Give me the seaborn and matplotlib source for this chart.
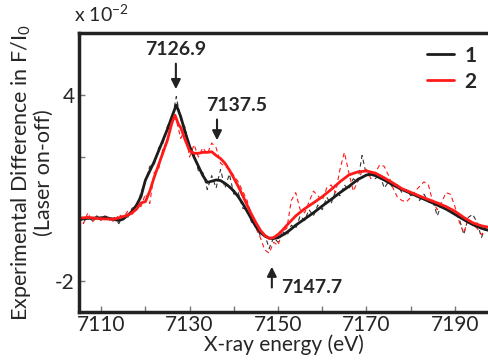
import pandas as pd
import matplotlib
matplotlib.use("Agg")
import matplotlib.pyplot as plt
import seaborn as sns

# raw (laser on - off) difference, x 10^-2, 1 eV steps
energy_raw = list(range(7105, 7198))
raw_1 = [0.05, -0.1, 0.08, -0.05, 0.1, 0.02, 0.12, -0.05, 0.05, -0.15,
         0.1, 0.05, 0.35, 0.4, 0.85, 1.2, 1.7, 1.75, 2.3, 2.45,
         3.0, 3.2, 3.95, 3.2, 2.95, 2.2, 2.1, 1.55, 1.5, 0.95,
         1.4, 1.0, 1.6, 1.0, 1.45, 0.8, 0.85, 0.35, 0.3, -0.1,
         -0.2, -0.55, -0.5, -0.95, -0.6, -0.75, -0.4, -0.55, -0.2, -0.3,
         0.1, -0.05, 0.3, 0.1, 0.45, 0.3, 0.7, 0.5, 0.9, 0.75,
         1.1, 0.95, 1.3, 1.2, 2.05, 1.4, 1.55, 1.3, 1.45, 1.0,
         1.2, 1.0, 1.1, 0.85, 0.95, 0.75, 0.85, 0.6, 0.8, 0.55,
         0.6, 0.1, 0.5, 0.3, 0.25, 0.2, 0.0, -0.5, 0.05, 0.15,
         -0.1, -0.6, -0.2]
raw_2 = [0.1, -0.15, 0.2, -0.1, 0.05, -0.05, 0.1, 0.0, -0.1, 0.15,
         0.05, 0.25, 0.15, 0.45, 0.4, 0.8, 0.5, 1.5, 1.6, 2.3,
         2.5, 3.3, 3.2, 2.6, 2.9, 2.0, 2.4, 2.0, 2.3, 2.1,
         2.45, 2.3, 1.8, 1.7, 1.6, 1.4, 1.2, 0.9, 0.6, 0.1,
         -0.3, -0.6, -1.0, -1.1, -0.75, -0.85, -0.4, -0.3, 0.6, 0.85,
         0.3, 0.2, 0.55, 0.9, 0.75, 0.6, 1.0, 1.1, 0.85, 1.6,
         2.15, 1.5, 0.9, 1.2, 1.55, 1.6, 1.3, 1.5, 1.75, 1.7,
         1.4, 1.0, 0.7, 0.6, 0.55, 0.7, 0.9, 1.05, 1.2, 1.1,
         0.55, 0.3, 0.55, 0.85, 0.8, 0.4, -0.1, -0.45, 0.0, -0.15,
         -0.3, -0.5, -0.35]

# smoothed fits
fit_energy_1 = [7105, 7107, 7109, 7111, 7112.5, 7114, 7115, 7116, 7117, 7118,
                7119, 7120, 7121, 7122, 7123, 7124, 7125, 7126, 7127, 7128,
                7129, 7130, 7131, 7132, 7133, 7134, 7135, 7136, 7137, 7138,
                7139, 7140, 7141, 7142, 7143, 7144, 7145, 7146, 7147, 7148,
                7149, 7150, 7151, 7152, 7153, 7154, 7156, 7158, 7160, 7162,
                7164, 7166, 7168, 7170, 7171, 7172, 7174, 7176, 7178, 7180,
                7182, 7184, 7186, 7188, 7190, 7192, 7194, 7196, 7197.7]
fit_1 = [0.0, 0.02, 0.03, 0.05, 0.0, -0.05, 0.0, 0.12, 0.25, 0.45,
         0.72, 1.25, 1.55, 1.85, 2.2, 2.55, 2.9, 3.3, 3.68, 3.3,
         2.8, 2.35, 2.0, 1.7, 1.4, 1.18, 1.22, 1.26, 1.24, 1.15,
         1.04, 0.9, 0.72, 0.5, 0.25, 0.0, -0.25, -0.43, -0.55, -0.62,
         -0.63, -0.6, -0.52, -0.43, -0.32, -0.2, 0.0, 0.2, 0.42, 0.63,
         0.85, 1.05, 1.27, 1.42, 1.44, 1.4, 1.26, 1.1, 0.95, 0.83,
         0.7, 0.58, 0.45, 0.32, 0.15, -0.02, -0.18, -0.3, -0.37]
fit_energy_2 = [7105, 7107, 7109, 7111, 7113, 7114, 7115, 7116, 7117, 7118,
                7119, 7120, 7121, 7122, 7123, 7124, 7125, 7126, 7126.7, 7127.5,
                7128, 7129, 7130, 7131, 7132, 7133, 7134, 7135, 7136, 7137,
                7138, 7139, 7140, 7141, 7142, 7143, 7144, 7145, 7146, 7147,
                7148, 7149, 7150, 7151, 7152, 7154, 7156, 7158, 7160, 7162,
                7164, 7166, 7168, 7170, 7172, 7174, 7176, 7178, 7180, 7182,
                7184, 7186, 7188, 7190, 7192, 7194, 7196, 7197.7]
fit_2 = [0.03, 0.05, 0.02, 0.0, 0.0, 0.04, 0.08, 0.12, 0.2, 0.32,
         0.52, 0.56, 0.9, 1.35, 1.75, 2.15, 2.55, 3.1, 3.35, 3.05,
         2.95, 2.55, 2.2, 2.12, 2.12, 2.15, 2.15, 2.17, 2.05, 1.95,
         1.8, 1.58, 1.32, 1.05, 0.76, 0.45, 0.15, -0.12, -0.36, -0.53,
         -0.62, -0.6, -0.5, -0.36, -0.2, 0.1, 0.33, 0.52, 0.72, 0.95,
         1.2, 1.42, 1.52, 1.55, 1.48, 1.33, 1.16, 0.98, 0.86, 0.74,
         0.63, 0.52, 0.4, 0.25, 0.05, -0.12, -0.22, -0.27]

x_ticks = [7110, 7130, 7150, 7170, 7190]
y_ticks = [-2, 0, 2, 4]
y_tick_labels = ["-2", "", "", "4"]

sns.set_style("white")
plt.rcParams["font.family"] = ["Lato", "DejaVu Sans"]
plt.rcParams["mathtext.fontset"] = "custom"
plt.rcParams["mathtext.rm"] = "Lato"
plt.rcParams["mathtext.it"] = "Lato"

fig = plt.figure(figsize=(4.89, 3.6), dpi=100)
ax = fig.add_axes([0.1616, 0.1333, 0.8384, 0.775])

dark = "#1c1c1c"
red = "#ff1a1a"

sns.lineplot(x=energy_raw, y=raw_1, ax=ax, color="#333333", lw=0.8,
             linestyle=(0, (4, 3)))
sns.lineplot(x=energy_raw, y=raw_2, ax=ax, color=red, lw=0.8,
             linestyle=(0, (4, 3)))
sns.lineplot(x=fit_energy_1, y=fit_1, ax=ax, color=dark, lw=2.0, label="1")
sns.lineplot(x=fit_energy_2, y=fit_2, ax=ax, color=red, lw=2.0, label="2")

ax.set_xlim(7105, 7197.7)
ax.set_ylim(-3, 6)
ax.set_xticks(x_ticks)
ax.set_xticks([7120, 7140, 7160, 7180], minor=True)
ax.set_yticks(y_ticks)
ax.set_yticklabels(y_tick_labels)
ax.tick_params(which="both", direction="in", length=4, width=1, color="#777777",
               labelsize=15, pad=3, bottom=True, left=True)
ax.tick_params(axis="x", pad=2)

for s in ["left", "bottom", "top"]:
    ax.spines[s].set_linewidth(2.5)
    ax.spines[s].set_color("#222222")
ax.spines["right"].set_visible(False)

ax.set_xlabel("X-ray energy (eV)", fontsize=15, labelpad=0)
ax.set_ylabel("Experimental Difference in F/I$_0$\n(Laser on-off)", fontsize=15.5,
              linespacing=1.05)
ax.yaxis.set_label_coords(-0.062, 0.5)
fig.text(0.152, 0.93, "x 10$^{-2}$", fontsize=14, ha="left", va="bottom")

arrow = dict(arrowstyle="-|>", color="#222222", lw=1.5, mutation_scale=14)
ax.annotate("", xy=(7126.9, 4.1), xytext=(7126.9, 5.1), arrowprops=arrow)
ax.text(7126.9, 5.2, "7126.9", ha="center", va="bottom", fontsize=14,
        fontweight="bold")
ax.annotate("", xy=(7136.2, 2.45), xytext=(7136.2, 3.3), arrowprops=arrow)
ax.text(7133.8, 3.4, "7137.5", ha="left", va="bottom", fontsize=14,
        fontweight="bold")
ax.annotate("", xy=(7148.6, -1.45), xytext=(7148.6, -2.3), arrowprops=arrow)
ax.text(7150.6, -2.2, "7147.7", ha="left", va="center", fontsize=14,
        fontweight="bold")

leg = ax.legend(loc="upper right", frameon=False, handlelength=1.3,
                handletextpad=0.5, borderaxespad=0.2, labelspacing=0.3,
                prop={"size": 15, "weight": "bold"})

fig.savefig("out.png", dpi=100)
